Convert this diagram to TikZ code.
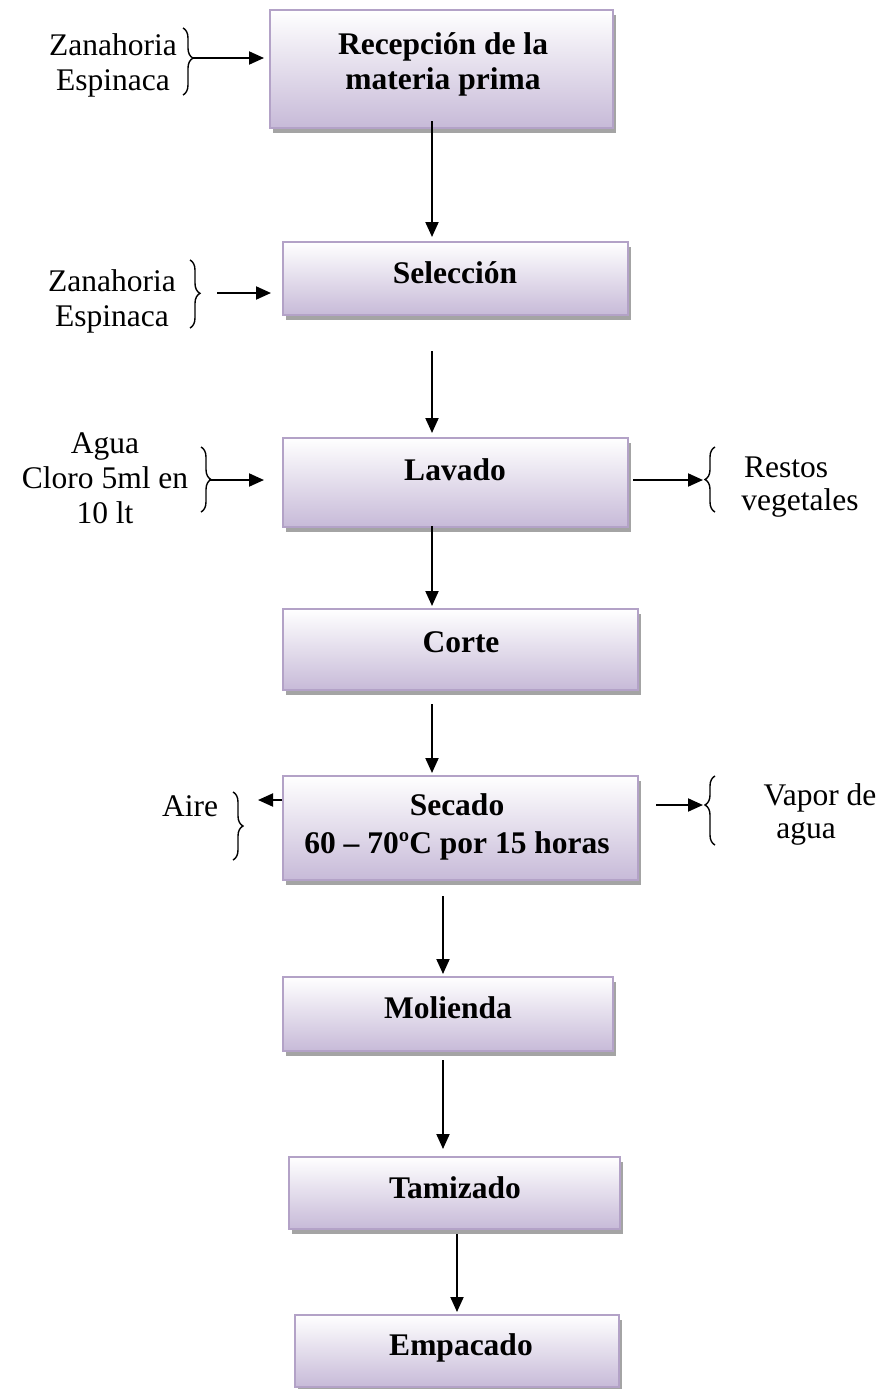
\documentclass[tikz,border=0pt]{standalone}
\usepackage{fontspec}
\setmainfont{Liberation Serif}
\usetikzlibrary{arrows.meta,decorations.pathreplacing,calc,shadows}
\definecolor{boxborder}{HTML}{B3A2C7}
\definecolor{boxbottom}{HTML}{C7BAD8}
\definecolor{shadowgray}{HTML}{A4A4A4}
\begin{document}
\begin{tikzpicture}[x=1pt,y=-1pt,
  procbox/.style={draw=boxborder, line width=2pt, top color=white, bottom color=boxbottom,
    inner sep=0pt, drop shadow={shadow xshift=3pt, shadow yshift=-5pt, fill=shadowgray, opacity=1}},
  boldtxt/.style={font=\bfseries\fontsize{31.5}{35}\selectfont, align=center, anchor=base, inner sep=0pt},
  plaintxt/.style={font=\fontsize{31.5}{35}\selectfont, align=center, anchor=base, inner sep=0pt},
  arr/.style={line width=2pt, -{Triangle[length=15pt,width=13pt]}},
  bracestyle/.style={line width=1.4pt, decorate, decoration={brace, amplitude=10pt, aspect=#1}},
  bracestyle/.default=0.5]
\useasboundingbox (0,0) rectangle (883,1389);
% process boxes
\node[procbox, minimum width=343pt, minimum height=118pt] (b1) at (441.5,69) {};
\node[procbox, minimum width=345pt, minimum height=73pt] (b2) at (455.5,278.5) {};
\node[procbox, minimum width=345pt, minimum height=89pt] (b3) at (455.5,482.5) {};
\node[procbox, minimum width=355pt, minimum height=81pt] (b4) at (460.5,649.5) {};
\node[procbox, minimum width=355pt, minimum height=104pt] (b5) at (460.5,828) {};
\node[procbox, minimum width=330pt, minimum height=74pt] (b6) at (448,1014) {};
\node[procbox, minimum width=331pt, minimum height=72pt] (b7) at (454.5,1193) {};
\node[procbox, minimum width=324pt, minimum height=72pt] (b8) at (457,1351) {};
% box texts (base = baseline of the last line)
\node[boldtxt] (t1) at (443,89) {Recepción de la\\materia prima};
\node[boldtxt] (t2) at (455,283) {Selección};
\node[boldtxt] (t3) at (455,480) {Lavado};
\node[boldtxt] (t4) at (461,652) {Corte};
\node[boldtxt] (t5) at (457,853) {Secado\\[3pt]60 – 70ºC por 15 horas};
\node[boldtxt] (t6) at (448,1018) {Molienda};
\node[boldtxt] (t7) at (455,1198) {Tamizado};
\node[boldtxt] (t8) at (461,1355) {Empacado};
% main flow
\draw[arr] ($(b1.south)+(-9.5,-8)$) -- ($(b2.north)+(-23.5,-4)$);
\draw[arr] ($(b2.south)+(-23.5,35)$) -- ($(b3.north)+(-23.5,-4)$);
\draw[arr] ($(b3.south)+(-23.5,-2)$) -- ($(b4.north)+(-28.5,-2)$);
\draw[arr] ($(b4.south)+(-28.5,13)$) -- ($(b5.north)+(-28.5,-2)$);
\draw[arr] ($(b5.south)+(-17.5,15)$) -- ($(b6.north)+(-5,-2)$);
\draw[arr] ($(b6.south)+(-5,8)$) -- ($(b7.north)+(-11.5,-7)$);
\draw[arr] ($(b7.south)+(2.5,4)$) -- ($(b8.north)+(0,-2)$);
% group 1
\node[plaintxt] (l1) at (113,90) {Zanahoria\\Espinaca};
\draw[bracestyle=0.45] (183,28) -- (183,95);
\coordinate (g1) at (193,58);
\draw[arr, shorten >=5pt] (g1) -- (b1.west |- g1);
% group 2
\node[plaintxt] (l2) at (112,326) {Zanahoria\\Espinaca};
\draw[bracestyle=0.49] (190,260) -- (190,328);
\coordinate (g2) at (217,293);
\draw[arr, shorten >=11pt] (g2) -- (b2.west |- g2);
% group 3
\node[plaintxt] (l3) at (105,523) {Agua\\Cloro 5ml en\\10 lt};
\draw[bracestyle] (201,447) -- (201,512);
\coordinate (g3) at (209,480);
\draw[arr, shorten >=18pt] (g3) -- (b3.west |- g3);
% right of Lavado
\coordinate (r3) at (703,480);
\draw[arr, shorten <=4pt] (b3.east |- r3) -- (r3);
\draw[bracestyle] (715,512) -- (715,447);
\node[plaintxt] (rt1) at (786,477) {Restos};
\node[plaintxt] (rt2) at (800,510) {vegetales};
% left of Secado
\coordinate (s1) at (258,800);
\draw[arr] (b5.west |- s1) -- (s1);
\draw[bracestyle] (233,792) -- (233,860);
\node[plaintxt] (aire) at (190,816) {Aire};
% right of Secado
\coordinate (s2) at (703,805);
\draw[arr, shorten <=17pt] (b5.east |- s2) -- (s2);
\draw[bracestyle=0.58] (715,845) -- (715,776);
\node[plaintxt] (vp1) at (820,805) {Vapor de};
\node[plaintxt] (vp2) at (806,838) {agua};
\end{tikzpicture}
\end{document}
